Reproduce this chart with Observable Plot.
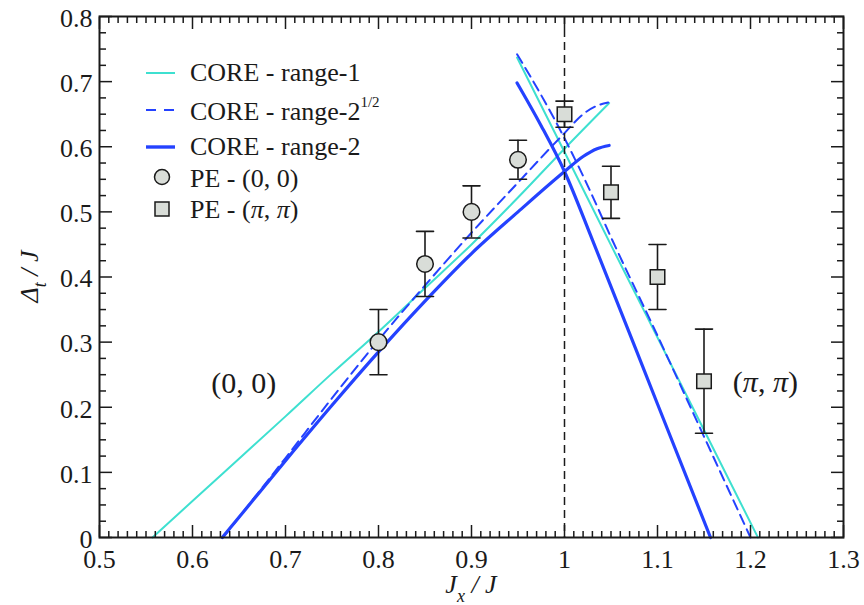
<!DOCTYPE html>
<html>
<head>
<meta charset="utf-8">
<script src="https://cdn.jsdelivr.net/npm/d3@7"></script>
<script src="https://cdn.jsdelivr.net/npm/@observablehq/plot@0.6"></script>
<style>
  html, body { margin: 0; padding: 0; background: #fff; }
  #chart { width: 864px; height: 605px; }
  #chart svg, #chart svg text, #chart svg tspan { font-family: "Liberation Serif", "Times New Roman", serif !important; }
</style>
</head>
<body>
<div id="chart"></div>
<script>
// ---------- tick values & labels ----------
const xMajorTicks = [0.5, 0.6, 0.7, 0.8, 0.9, 1.0, 1.1, 1.2, 1.3];
const xTickLabels = ["0.5", "0.6", "0.7", "0.8", "0.9", "1", "1.1", "1.2", "1.3"];
const yMajorTicks = [0, 0.1, 0.2, 0.3, 0.4, 0.5, 0.6, 0.7, 0.8];
const yTickLabels = ["0", "0.1", "0.2", "0.3", "0.4", "0.5", "0.6", "0.7", "0.8"];

// ---------- CORE - range-1 (cyan) ----------
const range1ZeroX = [0.557, 0.6, 0.65, 0.7, 0.75, 0.8, 0.85, 0.9, 0.95, 1.0, 1.048];
const range1ZeroY = [0, 0.056, 0.121, 0.186, 0.252, 0.316, 0.383, 0.45, 0.522, 0.597, 0.667];
const range1PiX = [0.949, 1.0, 1.05, 1.1, 1.15, 1.208];
const range1PiY = [0.737, 0.592, 0.449, 0.307, 0.165, 0];

// ---------- CORE - range-2^(1/2) (blue dashed) ----------
const rangeHalfZeroX = [0.633, 0.65, 0.7, 0.75, 0.8, 0.85, 0.9, 0.95, 1.0, 1.02, 1.035, 1.047];
const rangeHalfZeroY = [0, 0.031, 0.122, 0.214, 0.303, 0.387, 0.468, 0.545, 0.621, 0.65, 0.663, 0.668];
const rangeHalfPiX = [0.949, 0.975, 1.0, 1.025, 1.05, 1.1, 1.15, 1.2];
const rangeHalfPiY = [0.742, 0.679, 0.613, 0.54, 0.461, 0.31, 0.155, 0];

// ---------- CORE - range-2 (blue solid) ----------
const range2ZeroX = [0.632, 0.65, 0.7, 0.75, 0.8, 0.85, 0.9, 0.95, 1.0, 1.02, 1.035, 1.048];
const range2ZeroY = [0, 0.031, 0.118, 0.203, 0.285, 0.363, 0.436, 0.5, 0.562, 0.585, 0.597, 0.602];
const range2PiX = [0.949, 0.975, 1.0, 1.03, 1.1, 1.157];
const range2PiY = [0.698, 0.632, 0.562, 0.457, 0.205, 0];

// ---------- PE - (0,0) circles ----------
const pe00X = [0.8, 0.85, 0.9, 0.95];
const pe00Y = [0.30, 0.42, 0.50, 0.58];
const pe00Lo = [0.25, 0.37, 0.46, 0.55];
const pe00Hi = [0.35, 0.47, 0.54, 0.61];

// ---------- PE - (pi,pi) squares ----------
const pePiX = [1.0, 1.05, 1.1, 1.15];
const pePiY = [0.65, 0.53, 0.40, 0.24];
const pePiLo = [0.63, 0.49, 0.35, 0.16];
const pePiHi = [0.67, 0.57, 0.45, 0.32];

// ---------- region annotations ----------
const regionLabelX = [0.655, 1.216];
const regionLabelY = [0.237, 0.238];
const regionLabelText = ["(0, 0)", "(π, π)"];

// ---------- legend ----------
const legendLabels = ["CORE - range-1", "CORE - range-2", "CORE - range-2", "PE - (0, 0)", "PE - (π, π)"];

// ---------- styles ----------
const SERIF = "Liberation Serif, Times New Roman, serif";
const CYAN = "#3ee0d0";
const BLUE = "#2442ff";
const INK = "#1a1a1a";
const MARKER_FILL = "#d9ddd8";

const toPts = (xs, ys) => xs.map((x, i) => ({x, y: ys[i]}));
const toErr = (xs, ys, lo, hi) => xs.map((x, i) => ({x, y: ys[i], lo: lo[i], hi: hi[i]}));
const toCaps = (xs, lo, hi) => xs.flatMap((x, i) => [{x, y: lo[i]}, {x, y: hi[i]}]);

const pe00 = toErr(pe00X, pe00Y, pe00Lo, pe00Hi);
const pePi = toErr(pePiX, pePiY, pePiLo, pePiHi);
const caps = [...toCaps(pe00X, pe00Lo, pe00Hi), ...toCaps(pePiX, pePiLo, pePiHi)];
const regions = regionLabelX.map((x, i) => ({x, y: regionLabelY[i], text: regionLabelText[i]}));

const xMinor = d3.range(50, 131).map(d => d / 100).filter(d => !xMajorTicks.some(m => Math.abs(m - d) < 1e-9));
const yMinor = d3.range(0, 33).map(d => d * 0.025).filter(d => !yMajorTicks.some(m => Math.abs(m - d) < 1e-9));
const xLabelMap = new Map(xMajorTicks.map((d, i) => [d, xTickLabels[i]]));
const yLabelMap = new Map(yMajorTicks.map((d, i) => [d, yTickLabels[i]]));

const capShape = {draw(context, l) { context.moveTo(0, 0); context.lineTo(0, -l); }};

const tickStyle = {stroke: INK, strokeWidth: 1.5, fill: "none", label: null};

const M = {left: 99, right: 21, top: 16, bottom: 68};

const plot = Plot.plot({
  width: 864,
  height: 605,
  marginLeft: M.left,
  marginRight: M.right,
  marginTop: M.top,
  marginBottom: M.bottom,
  x: {domain: [0.5, 1.3]},
  y: {domain: [0, 0.8]},
  style: {fontSize: "26px", color: INK, background: "white", overflow: "visible"},
  marks: [
    // model curves
    Plot.line(toPts(range1ZeroX, range1ZeroY), {x: "x", y: "y", stroke: CYAN, strokeWidth: 2, curve: "monotone-x"}),
    Plot.line(toPts(range1PiX, range1PiY), {x: "x", y: "y", stroke: CYAN, strokeWidth: 2, curve: "monotone-x"}),
    Plot.line(toPts(rangeHalfZeroX, rangeHalfZeroY), {x: "x", y: "y", stroke: BLUE, strokeWidth: 2, strokeDasharray: "10,6", curve: "monotone-x"}),
    Plot.line(toPts(rangeHalfPiX, rangeHalfPiY), {x: "x", y: "y", stroke: BLUE, strokeWidth: 2, strokeDasharray: "10,6", curve: "monotone-x"}),
    Plot.line(toPts(range2ZeroX, range2ZeroY), {x: "x", y: "y", stroke: BLUE, strokeWidth: 3.2, curve: "monotone-x"}),
    Plot.line(toPts(range2PiX, range2PiY), {x: "x", y: "y", stroke: BLUE, strokeWidth: 3.2, curve: "monotone-x"}),
    // vertical dashed reference at Jx/J = 1
    Plot.ruleX([1], {stroke: INK, strokeWidth: 1.5, strokeDasharray: "8,5"}),
    // error bars
    Plot.ruleX(pe00, {x: "x", y1: "lo", y2: "hi", stroke: INK, strokeWidth: 1.6}),
    Plot.ruleX(pePi, {x: "x", y1: "lo", y2: "hi", stroke: INK, strokeWidth: 1.6}),
    Plot.vector(caps, {x: "x", y: "y", length: 17, rotate: 90, anchor: "middle", shape: capShape, stroke: INK, strokeWidth: 1.6}),
    // markers
    Plot.dot(pe00, {x: "x", y: "y", r: 8.3, fill: MARKER_FILL, stroke: INK, strokeWidth: 1.5}),
    Plot.dot(pePi, {x: "x", y: "y", r: 8.2, symbol: "square", fill: MARKER_FILL, stroke: INK, strokeWidth: 1.5}),
    // region labels
    Plot.text(regions, {x: "x", y: "y", text: "text", fontSize: 30, fill: INK, textAnchor: "middle"}),
    // frame
    Plot.frame({stroke: INK, strokeWidth: 2}),
    // inward ticks on all four sides
    Plot.axisX(xMajorTicks, {anchor: "bottom", tickSize: -12, ...tickStyle}),
    Plot.axisX(xMinor, {anchor: "bottom", tickSize: -6, ...tickStyle}),
    Plot.axisX(xMajorTicks, {anchor: "top", tickSize: -12, ...tickStyle}),
    Plot.axisX(xMinor, {anchor: "top", tickSize: -6, ...tickStyle}),
    Plot.axisY(yMajorTicks, {anchor: "left", tickSize: -13, ...tickStyle}),
    Plot.axisY(yMinor, {anchor: "left", tickSize: -7, ...tickStyle}),
    Plot.axisY(yMajorTicks, {anchor: "right", tickSize: -13, ...tickStyle}),
    Plot.axisY(yMinor, {anchor: "right", tickSize: -7, ...tickStyle}),
    // tick labels
    Plot.axisX(xMajorTicks, {anchor: "bottom", tickSize: 0, tickPadding: 12, tickFormat: d => xLabelMap.get(d), fontSize: 26, fill: INK, label: null}),
    Plot.axisY(yMajorTicks, {anchor: "left", tickSize: 0, tickPadding: 7, dy: 2, tickFormat: d => yLabelMap.get(d), fontSize: 26, fill: INK, label: null})
  ]
});

const svg = d3.select(plot);
svg.attr("font-family", SERIF);

// italic pi in text
function italicizePi(node) {
  const t = node.textContent;
  if (!t.includes("π")) return;
  const sel = d3.select(node);
  sel.text(null);
  t.split(/(π)/).filter(s => s.length).forEach(s => {
    const ts = sel.append("tspan").text(s);
    if (s === "π") ts.attr("font-style", "italic");
  });
}
svg.selectAll("text").each(function() { italicizePi(this); });

// axis titles
const frameL = M.left, frameR = 864 - M.right, frameT = M.top, frameB = 605 - M.bottom;
const xt = svg.append("text")
  .attr("x", (frameL + frameR) / 2).attr("y", 593)
  .attr("text-anchor", "middle").attr("font-size", 26).attr("font-style", "italic").attr("fill", INK);
xt.append("tspan").text("J");
xt.append("tspan").attr("font-size", 18).attr("dy", 9).text("x");
xt.append("tspan").attr("dy", -9).text(" / J");

const yt = svg.append("text")
  .attr("transform", `translate(38,${(frameT + frameB) / 2}) rotate(-90)`)
  .attr("text-anchor", "middle").attr("font-size", 26).attr("font-style", "italic").attr("fill", INK);
yt.append("tspan").text("Δ");
yt.append("tspan").attr("font-size", 18).attr("dy", 8).text("t");
yt.append("tspan").attr("dy", -8).text(" / J");

// legend
const lg = svg.append("g").attr("font-size", 26).attr("text-anchor", "start").attr("fill", INK);
const rowY = [73, 110, 147, 177, 209];
const baseY = [81, 120, 155, 187, 218];
lg.append("line").attr("x1", 146).attr("x2", 175).attr("y1", rowY[0]).attr("y2", rowY[0]).attr("stroke", CYAN).attr("stroke-width", 2);
lg.append("line").attr("x1", 146).attr("x2", 176).attr("y1", rowY[1]).attr("y2", rowY[1]).attr("stroke", BLUE).attr("stroke-width", 2.2).attr("stroke-dasharray", "10,8");
lg.append("line").attr("x1", 146).attr("x2", 175).attr("y1", rowY[2]).attr("y2", rowY[2]).attr("stroke", BLUE).attr("stroke-width", 3.4);
lg.append("circle").attr("cx", 162).attr("cy", rowY[3]).attr("r", 7.5).attr("fill", MARKER_FILL).attr("stroke", INK).attr("stroke-width", 1.5);
lg.append("rect").attr("x", 155).attr("y", rowY[4] - 7).attr("width", 14).attr("height", 14).attr("fill", MARKER_FILL).attr("stroke", INK).attr("stroke-width", 1.5);
legendLabels.forEach((lab, i) => {
  const t = lg.append("text").attr("x", 190).attr("y", baseY[i]).attr("text-anchor", "start").text(lab);
  if (i === 1) t.append("tspan").attr("font-size", 15).attr("dy", -13).text("1/2");
  italicizePi(t.node());
});

document.getElementById("chart").appendChild(plot);
</script>
</body>
</html>
